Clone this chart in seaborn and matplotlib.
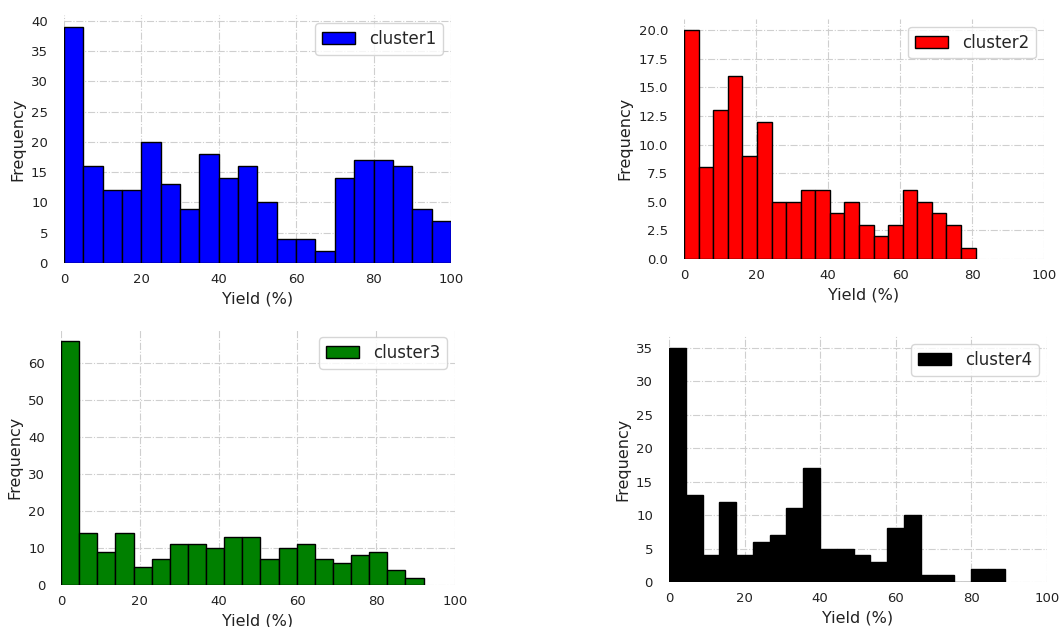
import numpy as np
import pandas as pd
import matplotlib
matplotlib.use('Agg')
import matplotlib.pyplot as plt
import seaborn as sns

# bin counts (20 bins per cluster, starting at 0)
cluster1_counts = [39, 16, 12, 12, 20, 13, 9, 18, 14, 16, 10, 4, 4, 2, 14, 17, 17, 16, 9, 7]
cluster2_counts = [20, 8, 13, 16, 9, 12, 5, 5, 6, 6, 4, 5, 3, 2, 3, 6, 5, 4, 3, 1]
cluster3_counts = [66, 14, 9, 14, 5, 7, 11, 11, 10, 13, 13, 7, 10, 11, 7, 6, 8, 9, 4, 2]
cluster4_counts = [35, 13, 4, 12, 4, 6, 7, 11, 17, 5, 5, 4, 3, 8, 10, 1, 1, 0, 2, 2]

# largest yield in each cluster (upper edge of the last bin)
cluster_max = [100, 81, 92, 88.8]
cluster_names = ['cluster1', 'cluster2', 'cluster3', 'cluster4']
cluster_colors = ['blue', 'red', 'green', 'black']
n_bins = 20

sns.set_style('whitegrid', {'grid.linestyle': '-.', 'grid.color': '#d0d0d0'})
plt.rcParams['font.family'] = ['DejaVu Sans']

fig = plt.figure(figsize=(10.59, 6.27), dpi=100)

# axes boxes [left, bottom, width, height] in figure fractions
positions = [
    [0.0604, 0.5805, 0.3654, 0.3955],
    [0.6459, 0.5869, 0.3400, 0.3834],
    [0.0576, 0.0670, 0.3721, 0.4083],
    [0.6317, 0.0718, 0.3569, 0.3923],
]

all_counts = [cluster1_counts, cluster2_counts, cluster3_counts, cluster4_counts]

for counts, top, name, color, pos in zip(all_counts, cluster_max, cluster_names, cluster_colors, positions):
    ax = fig.add_axes(pos)
    edges = np.linspace(0, top, n_bins + 1)
    df = pd.DataFrame({'yield': (edges[:-1] + edges[1:]) / 2, 'count': counts})
    sns.histplot(data=df, x='yield', weights='count', bins=list(edges), color=color,
                 edgecolor='black', linewidth=1, alpha=1, ax=ax, label=name)
    ax.set_xlim(0, 100)
    ax.set_ylim(0, max(counts) * 1.05)
    ax.set_xticks([0, 20, 40, 60, 80, 100])
    ax.set_xlabel('Yield (%)', fontsize=11.5, color='#222222')
    ax.set_ylabel('Frequency', fontsize=11.5, color='#222222')
    ax.tick_params(labelsize=9.5, labelcolor='#222222')
    ax.tick_params(axis='y', pad=8)
    ax.grid(True, linestyle='-.', color='#cfcfcf', linewidth=0.8)
    for s in ax.spines.values():
        s.set_visible(False)
    ax.legend(loc='upper right', fontsize=12)

plt.savefig('out.png', dpi=100)
